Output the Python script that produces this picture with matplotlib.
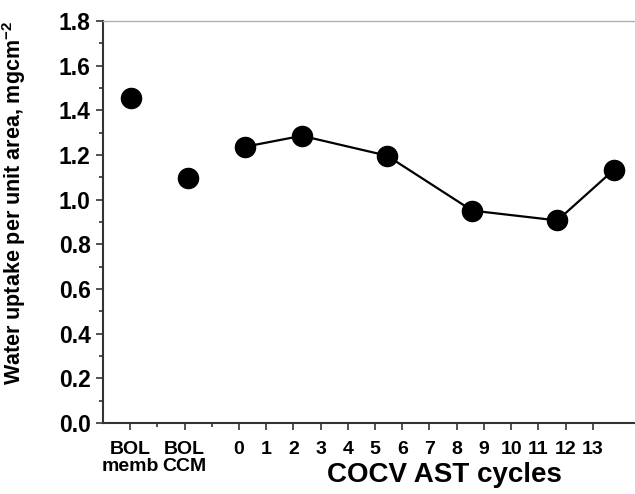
import matplotlib.pyplot as plt
from matplotlib.ticker import MultipleLocator, FixedLocator

plt.rcParams['font.family'] = ['Liberation Sans', 'DejaVu Sans']
plt.rcParams['font.weight'] = 'bold'
plt.rcParams['mathtext.fontset'] = 'custom'
plt.rcParams['mathtext.bf'] = 'Liberation Sans:bold'
plt.rcParams['mathtext.rm'] = 'Liberation Sans'

# Datos
bol_labels = ['BOL\nmemb', 'BOL\nCCM']
bol_x = [-4, -2]
bol_vals = [1.456, 1.099]

ciclos = [0, 2, 5, 8, 11, 13]
uptake = [1.237, 1.286, 1.197, 0.951, 0.907, 1.135]

etiquetas_ciclos = [str(c) for c in range(14)]

# Posiciones de las marcas del eje X (algo desalineadas respecto a los puntos, como en el original)
x0 = -5.0
dt = 0.958
tick_labels = ['', bol_labels[0], '', bol_labels[1], ''] + etiquetas_ciclos
major_pos = [x0 + k * dt for k in range(len(tick_labels)) if k not in (0, 2, 4)]
major_lab = [lab for k, lab in enumerate(tick_labels) if k not in (0, 2, 4)]
minor_pos = [x0 + k * dt for k in (2, 4)]

fig = plt.figure(figsize=(6.35, 4.94), dpi=100)
ax = fig.add_axes([103 / 635, 71 / 494, 532 / 635, 402 / 494])

ax.plot(bol_x, bol_vals, 'o', color='black', markersize=14.5, zorder=3)
ax.plot(ciclos, uptake, '-o', color='black', markersize=14.5, linewidth=1.6, zorder=3)

ax.set_xlim(-5.0, -5.0 + 532 / 28.4)
ax.set_ylim(0, 1.8)

ax.yaxis.set_major_locator(MultipleLocator(0.2))
ax.yaxis.set_minor_locator(MultipleLocator(0.1))
ax.yaxis.set_major_formatter(plt.FormatStrFormatter('%.1f'))
ax.xaxis.set_major_locator(FixedLocator(major_pos))
ax.xaxis.set_minor_locator(FixedLocator(minor_pos))
ax.set_xticklabels(major_lab, linespacing=1.0, va='top')

ax.tick_params(axis='both', which='major', direction='out', length=5, width=1.2, color='#333333')
ax.tick_params(axis='both', which='minor', direction='out', length=3, width=1.2, color='#333333')
ax.tick_params(axis='y', labelsize=16.5, pad=4)
ax.tick_params(axis='x', labelsize=14, pad=8)

for sp in ['left', 'bottom']:
    ax.spines[sp].set_color('#333333')
    ax.spines[sp].set_linewidth(1.5)
ax.spines['top'].set_color('#b0b0b0')
ax.spines['top'].set_linewidth(1.0)
ax.spines['right'].set_visible(False)

ax.text(0.641, (423 - 482) / 402, 'COCV AST cycles', transform=ax.transAxes,
        ha='center', va='baseline', fontsize=20, fontweight='bold')
ax.set_ylabel('Water uptake per unit area, mgcm$^{\\mathbf{-2}}$', fontsize=15.5, fontweight='bold')
ax.yaxis.set_label_coords(-0.141, 0.547)

plt.savefig('out.png', dpi=100)
